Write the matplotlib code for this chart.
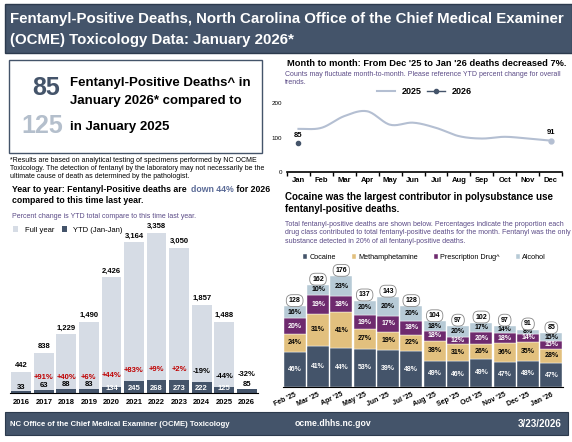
import matplotlib
matplotlib.use("Agg")
import matplotlib.pyplot as plt
import numpy as np
from matplotlib.patches import Rectangle

plt.rcParams['font.family'] = ['Liberation Sans', 'DejaVu Sans']

years = ['2016','2017','2018','2019','2020','2021','2022','2023','2024','2025','2026']
full_year = [442, 838, 1229, 1490, 2426, 3164, 3358, 3050, 1857, 1488, 85]
ytd = [33, 63, 88, 83, 134, 245, 268, 273, 222, 125, 85]
ytd_pct = ['', '+91%', '+40%', '+6%', '+44%', '+83%', '+9%', '+2%', '-19%', '-44%', '-32%']

months = ['Jan','Feb','Mar','Apr','May','Jun','Jul','Aug','Sep','Oct','Nov','Dec']
line_2025 = [125, 128, 162, 176, 137, 143, 128, 104, 97, 102, 97, 91]
line_2026 = [85]

stack_months = ["Feb '25","Mar '25","Apr '25","May '25","Jun '25","Jul '25","Aug '25","Sep '25","Oct '25","Nov '25","Dec '25","Jan '26"]
stack_totals = [128, 162, 176, 137, 143, 128, 104, 97, 102, 97, 91, 85]
cocaine = [46, 41, 44, 53, 39, 48, 49, 46, 49, 47, 48, 47]
meth = [24, 31, 41, 27, 19, 22, 38, 31, 26, 36, 35, 28]
rx = [20, 19, 18, 19, 17, 18, 18, 12, 20, 18, 14, 15]
alcohol = [16, 10, 23, 20, 20, 20, 18, 20, 17, 14, 8, 15]

NAVY = '#44546a'
SUB = '#5a4a86'
W, H = 572, 442
fig = plt.figure(figsize=(W/100, H/100), dpi=100)

def ax_px(x0, y0, x1, y1):
    return fig.add_axes([x0/W, 1-y1/H, (x1-x0)/W, (y1-y0)/H])

def t(x, y, s, **kw):
    return fig.text(x/W, 1-y/H, s, **kw)

# Title banner
fig.patches.append(Rectangle((5/W, 1-53/H), 567/W, 49/H, transform=fig.transFigure,
                             facecolor=NAVY, edgecolor='#2c3a4d', lw=1))
t(10, 19, "Fentanyl-Positive Deaths, North Carolina Office of the Chief Medical Examiner", color='white',
  fontsize=10.8, fontweight='bold', va='center')
t(10, 40, "(OCME) Toxicology Data: January 2026*", color='white',
  fontsize=10.8, fontweight='bold', va='center')

# KPI box
fig.patches.append(Rectangle((9/W, 1-153/H), 253/W, 93/H, transform=fig.transFigure,
                             facecolor='white', edgecolor=NAVY, lw=1))
t(60, 88, "85", color=NAVY, fontsize=18, fontweight='bold', ha='right', va='center')
t(63, 126, "125", color='#b4bfcc', fontsize=18, fontweight='bold', ha='right', va='center')
t(70, 83, "Fentanyl-Positive Deaths^ in", fontsize=9.5, fontweight='bold', va='center')
t(70, 101, "January 2026* compared to", fontsize=9.5, fontweight='bold', va='center')
t(70, 127, "in January 2025", fontsize=9.5, fontweight='bold', va='center')
t(10, 168, "*Results are based on analytical testing of specimens performed by NC OCME\n"
  "Toxicology. The detection of fentanyl by the laboratory may not necessarily be the\n"
  "ultimate cause of death as determined by the pathologist.", fontsize=5, va='center', linespacing=1.2)

# Year to year heading with colored fragment
h1 = t(12, 192, "Year to year: Fentanyl-Positive deaths are  ", fontsize=6.3, fontweight='bold', va='baseline')
a2 = fig.add_artist(matplotlib.text.Annotation("down 44%", xy=(1, 0), xycoords=h1, fontsize=6.3,
                    fontweight='bold', color='#5a6a96', va='bottom'))
a3 = fig.add_artist(matplotlib.text.Annotation(" for 2026", xy=(1, 0), xycoords=a2, fontsize=6.3,
                    fontweight='bold', va='bottom'))
t(12, 203, "compared to this time last year.", fontsize=6.3, fontweight='bold', va='baseline')
t(12, 216, "Percent change is YTD total compare to this time last year.", fontsize=5, color=SUB, va='center')

ax1 = ax_px(10, 233, 258, 393)
x = np.arange(len(years))
ax1.bar(x, full_year, width=0.88, color='#d6dce5', label='Full year')
ax1.bar(x, ytd, width=0.88, color=NAVY, label='YTD (Jan-Jan)')
n = len(years)
for i in range(n):
    if i != n-1:
        ax1.text(x[i], full_year[i] + 60, f"{full_year[i]:,}", ha='center', va='bottom', fontsize=5.5, fontweight='bold')
    inside = ytd[i] > 120 and i != n-1
    ax1.text(x[i], 15 if inside else ytd[i] + 15, str(ytd[i]), ha='center', va='bottom', fontsize=5.5,
             fontweight='bold', color='white' if inside else 'black')
    if ytd_pct[i]:
        neg = ytd_pct[i].startswith('-')
        ax1.text(x[i], max(ytd[i], 100) + 150 + (60 if i == n-1 else 0), ytd_pct[i], ha='center', va='bottom',
                 fontsize=5.5, fontweight='bold', color='black' if neg else '#c00000')
ax1.set_xlim(-0.5, n-0.5)
ax1.set_ylim(0, 3358)
ax1.set_xticks(x, years, fontsize=5.5, fontweight='bold')
ax1.set_yticks([])
for s in ['top', 'right', 'left']:
    ax1.spines[s].set_visible(False)
ax1.tick_params(axis='x', length=0, pad=4)
ax1.legend(loc='upper left', bbox_to_anchor=(0, 1.06), ncol=2, frameon=False, fontsize=5.5,
           handlelength=0.7, handleheight=0.7, columnspacing=1, borderaxespad=0)

# Month to month line
t(287, 63, "Month to month: From Dec '25 to Jan '26 deaths decreased 7%.", fontsize=6.7, fontweight='bold', va='center')
t(285, 78, "Counts may fluctuate month-to-month. Please reference YTD percent change for overall\ntrends.",
  fontsize=5, color=SUB, va='center', linespacing=1.2)
ax2 = ax_px(287, 103, 562, 172)
mx = np.arange(12)
xs = np.linspace(0, 11, 200)
def catmull(yp, xs):
    yp = np.asarray(yp, float)
    out = []
    for xv in xs:
        i = min(int(np.floor(xv)), len(yp)-2)
        tt = xv - i
        p0 = yp[max(i-1, 0)]; p1 = yp[i]; p2 = yp[i+1]; p3 = yp[min(i+2, len(yp)-1)]
        out.append(0.5*((2*p1) + (-p0+p2)*tt + (2*p0-5*p1+4*p2-p3)*tt**2 + (-p0+3*p1-3*p2+p3)*tt**3))
    return np.array(out)
ax2.plot(xs, catmull(line_2025, xs), color='#b4bfd2', lw=1.5, label='2025')
ax2.plot(11, line_2025[-1], 'o', color='#b4bfd2', ms=3.5)
ax2.plot(mx[:len(line_2026)], line_2026, '-o', color=NAVY, ms=3, lw=1, label='2026')
ax2.text(0, line_2026[0] + 12, str(line_2026[0]), ha='center', va='bottom', fontsize=5.5, fontweight='bold')
ax2.text(11, line_2025[-1] + 12, str(line_2025[-1]), ha='center', va='bottom', fontsize=5.5, fontweight='bold')
ax2.set_ylim(0, 200)
ax2.set_xlim(-0.5, 11.5)
ax2.set_yticks([0, 100, 200], ['0', '100', '200'], fontsize=4.5)
ax2.set_xticks(mx, months, fontsize=5.5, fontweight='bold')
for s in ['top', 'right', 'left']:
    ax2.spines[s].set_visible(False)
ax2.spines['bottom'].set_linewidth(1.2)
ax2.tick_params(axis='y', length=0)
ax2.set_xticks(np.arange(-0.5, 12, 1), minor=True)
ax2.tick_params(axis='x', which='major', length=0)
ax2.tick_params(axis='x', which='minor', length=3, width=1)
ax2.legend(loc='upper center', bbox_to_anchor=(0.5, 1.28), ncol=2, frameon=False,
           handlelength=2, columnspacing=0.5, borderaxespad=0, prop={'weight': 'bold', 'size': 6.5})

# Stacked
t(285, 203, "Cocaine was the largest contributor in polysubstance use\nfentanyl-positive deaths.", fontsize=7,
  fontweight='bold', va='center', linespacing=1.15)
t(285, 233, "Total fentanyl-positive deaths are shown below. Percentages indicate the proportion each\n"
  "drug class contributed to total fentanyl-positive deaths for the month. Fentanyl was the only\n"
  "substance detected in 20% of all fentanyl-positive deaths.", fontsize=5, color=SUB, va='center', linespacing=1.25)
ax3 = ax_px(283, 259, 563, 387)
sx = np.arange(12)
cols = [('Cocaine', cocaine, NAVY, 'white'), ('Methamphetamine', meth, '#e2c07e', 'black'),
        ('Prescription Drug^', rx, '#6e2a6e', 'white'), ('Alcohol', alcohol, '#b7cad6', 'black')]
sums = np.array(cocaine) + np.array(meth) + np.array(rx) + np.array(alcohol)
bottom = np.zeros(12)
for name, vals, c, tc in cols:
    h = np.array(stack_totals) * np.array(vals) / sums
    ax3.bar(sx, h, bottom=bottom, width=0.95, color=c, label=name, edgecolor='white', lw=0.3)
    for i in range(12):
        ax3.text(sx[i], bottom[i] + h[i]/2, f"{vals[i]}%", ha='center', va='center', fontsize=5,
                 fontweight='bold', color=tc)
    bottom += h
for i in range(12):
    ax3.text(sx[i], stack_totals[i] + 9, str(stack_totals[i]), ha='center', va='center', fontsize=5, fontweight='bold',
             bbox=dict(boxstyle='round,pad=0.35,rounding_size=0.8', fc='white', ec='#888888', lw=0.6))
ax3.set_ylim(0, 203)
ax3.set_xlim(-0.5, 11.5)
ax3.set_yticks([])
ax3.set_xticks(sx, stack_months, fontsize=5, fontweight='bold', rotation=25, ha='right', rotation_mode='anchor')
ax3.tick_params(axis='x', length=0, pad=3)
for s in ['top', 'right', 'left']:
    ax3.spines[s].set_visible(False)
ax3.legend(loc='upper left', bbox_to_anchor=(0.06, 1.06), ncol=4, frameon=False, fontsize=5.2,
           handlelength=0.6, handleheight=0.6, columnspacing=2.2, borderaxespad=0, handletextpad=0.3)

# Footer
fig.patches.append(Rectangle((5/W, 1-435/H), 563/W, 23/H, transform=fig.transFigure,
                             facecolor=NAVY, edgecolor='#2c3a4d', lw=0.8))
t(10, 424, "NC Office of the Chief Medical Examiner (OCME) Toxicology", color='white', fontsize=5.6, fontweight='bold', va='center')
t(333, 424, "ocme.dhhs.nc.gov", color='white', fontsize=6.2, fontweight='bold', va='center', ha='center')
t(562, 424, "3/23/2026", color='white', fontsize=7, fontweight='bold', va='center', ha='right')

fig.savefig('out.png', dpi=100)
